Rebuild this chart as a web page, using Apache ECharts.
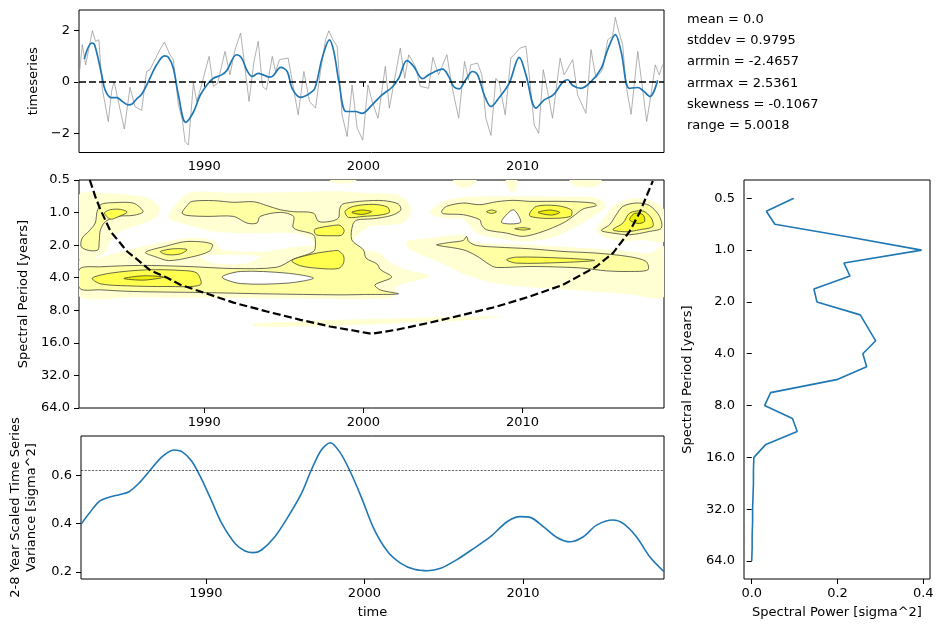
<!DOCTYPE html>
<html>
<head>
<meta charset="utf-8">
<script src="https://cdn.jsdelivr.net/npm/echarts@6/dist/echarts.min.js"></script>
<style>
  html, body { margin: 0; padding: 0; background: #fff; }
  #chart { width: 943px; height: 632px; }
</style>
</head>
<body>
<div id="chart"></div>
<script>
// ---- data ----
// monthly anomaly (grey) [year, value]
var greyTs = [[1982.08,-0.05],[1982.33,1.44],[1982.54,0.66],[1982.96,1.98],[1983.16,1.57],[1983.37,1.63],[1983.58,-0.25],[1983.96,-1.54],[1984.17,-0.37],[1984.32,0.02],[1984.55,-0.63],[1984.97,-1.83],[1985.33,-0.21],[1985.64,-0.96],[1986.06,-1.11],[1986.37,0.40],[1986.58,0.47],[1987.21,1.25],[1987.49,1.54],[1987.84,1.05],[1988.05,0.86],[1988.37,-0.89],[1988.62,-1.48],[1988.79,-2.32],[1989.00,-2.45],[1989.31,-0.05],[1989.52,-0.76],[1989.80,-0.18],[1990.30,0.99],[1990.57,-0.18],[1990.84,-0.05],[1991.30,1.18],[1991.61,0.27],[1991.93,1.25],[1992.28,1.89],[1992.52,0.73],[1992.81,-0.76],[1993.12,0.79],[1993.39,1.57],[1993.66,-0.18],[1993.91,-0.31],[1994.27,0.99],[1994.48,0.40],[1994.73,0.86],[1995.27,0.92],[1995.57,-0.12],[1995.90,-1.28],[1996.26,0.40],[1996.61,-0.76],[1996.99,-1.02],[1997.30,0.40],[1997.62,1.63],[1997.83,1.98],[1998.08,1.63],[1998.35,1.38],[1998.66,-1.28],[1998.98,-2.12],[1999.29,-0.12],[1999.61,-1.80],[1999.96,-2.26],[2000.29,-0.12],[2000.55,-0.76],[2000.92,-1.41],[2001.38,0.60],[2001.63,-1.02],[2002.32,1.31],[2002.60,0.14],[2002.85,1.05],[2003.27,0.60],[2003.58,-0.18],[2004.10,-0.25],[2004.37,0.95],[2004.73,0.27],[2005.25,1.05],[2005.57,-0.18],[2005.99,-1.41],[2006.36,0.79],[2006.61,0.08],[2006.75,0.66],[2007.18,0.73],[2007.45,0.27],[2007.70,-1.41],[2008.02,-2.08],[2008.33,0.14],[2008.54,-0.05],[2008.92,-1.28],[2009.27,0.92],[2009.86,1.31],[2010.22,1.38],[2010.47,0.02],[2010.74,-1.67],[2011.02,-2.00],[2011.31,0.47],[2011.58,-0.37],[2011.89,-1.41],[2012.37,0.92],[2012.62,0.27],[2013.16,0.86],[2013.47,-0.51],[2013.99,-1.22],[2014.31,1.25],[2014.62,0.14],[2015.04,0.47],[2015.36,1.63],[2015.67,1.77],[2015.84,2.50],[2016.05,1.96],[2016.30,1.44],[2016.51,-0.12],[2016.83,-1.26],[2017.25,1.18],[2017.56,-0.31],[2017.81,-1.54],[2018.08,-0.51],[2018.35,0.66],[2018.60,0.27],[2018.81,0.66],[2018.92,0.60]];

// smoothed series (blue) [year, value]
var smoothTs = [[1982.45,0.88],[1982.92,1.50],[1983.10,1.44],[1983.55,0.27],[1983.76,-0.31],[1984.14,-0.61],[1984.50,-0.61],[1984.80,-0.74],[1985.22,-0.89],[1985.43,-0.87],[1985.75,-0.66],[1986.06,-0.48],[1986.48,0.01],[1987.00,0.66],[1987.49,1.01],[1987.74,0.95],[1988.05,0.53],[1988.37,-0.51],[1988.83,-1.57],[1989.31,-1.18],[1989.73,-0.53],[1990.14,-0.14],[1990.57,0.14],[1991.09,0.27],[1991.40,0.43],[1992.03,1.05],[1992.35,0.92],[1992.66,0.47],[1993.01,0.21],[1993.39,0.33],[1993.70,0.27],[1994.12,0.18],[1994.35,0.25],[1994.80,0.56],[1995.21,0.40],[1995.52,-0.25],[1996.05,-0.60],[1996.57,-0.47],[1996.95,-0.25],[1997.41,0.92],[1997.87,1.63],[1998.14,1.18],[1998.46,0.01],[1998.92,-1.15],[1999.50,-1.15],[1999.92,-1.22],[2000.55,-0.89],[2001.17,-0.51],[2001.80,-0.21],[2002.22,0.14],[2002.74,0.82],[2003.16,0.60],[2003.73,0.12],[2004.10,0.27],[2004.98,0.49],[2005.36,0.21],[2005.67,-0.18],[2006.03,-0.27],[2006.40,0.05],[2006.87,0.40],[2007.18,0.27],[2007.60,-0.51],[2008.02,-0.96],[2008.54,-0.61],[2009.17,-0.05],[2009.80,0.95],[2010.22,0.27],[2010.85,-1.02],[2011.37,-0.70],[2011.94,-0.51],[2012.53,-0.01],[2012.84,0.08],[2013.16,-0.14],[2013.68,-0.25],[2014.31,0.01],[2014.94,0.51],[2015.36,1.25],[2015.84,1.83],[2016.20,1.18],[2016.72,-0.25],[2017.25,-0.22],[2017.60,-0.35],[2018.02,-0.57],[2018.50,0.06]];

var statsLines = ['mean = 0.0', 'stddev = 0.9795', 'arrmin = -2.4657', 'arrmax = 2.5361', 'skewness = -0.1067', 'range = 5.0018'];

// wavelet power, contour regions [year, period]
var wavePale = [
  [[1982.13,0.684],[1983.47,0.659],[1985.15,0.684],[1986.40,0.734],[1987.14,0.876],[1987.03,1.085],[1986.19,1.25],[1984.94,1.441],[1984.21,1.721],[1983.79,2.287],[1983.05,2.59],[1982.13,2.68]],
  [[1987.76,1.047],[1988.28,0.816],[1989.12,0.649],[1991.84,0.659],[1994.98,0.649],[1998.54,0.636],[2000.0,0.659],[2002.09,0.684],[2002.93,0.846],[2002.89,1.085],[2002.30,1.268],[2000.42,1.342],[1999.58,1.661],[1999.17,2.13],[1998.12,2.13],[1997.07,2.13],[1996.65,1.721],[1995.61,1.547],[1992.89,1.547],[1990.59,1.493],[1988.91,1.296],[1987.87,1.165]],
  [[1982.13,2.77],[1983.47,2.59],[1985.98,2.085],[1988.91,1.721],[1990.59,1.81],[1991.11,2.207],[1993.93,2.287],[1995.19,2.13],[1996.86,2.03],[1998.54,2.07],[1999.17,2.13],[2000.0,2.207],[2001.05,2.37],[2001.57,2.83],[2002.72,3.38],[2004.19,3.84],[2003.14,4.335],[2002.09,4.823],[2001.88,6.01],[2000.0,6.32],[1998.54,6.32],[1993.93,6.23],[1989.75,6.14],[1985.56,6.05],[1982.13,5.968]],
  [[1993.10,10.67],[1996.03,10.17],[1998.54,9.81],[2002.09,9.54],[2006.28,9.14],[2008.79,9.2],[2006.28,9.95],[2002.09,10.53],[1998.54,11.1],[1996.03,11.3],[1993.10,11.3]],
  [[1997.91,0.5],[1999.58,0.5],[1999.17,0.532],[1998.12,0.532]],
  [[2005.65,0.5],[2007.11,0.5],[2006.80,0.564],[2006.18,0.593]],
  [[2008.96,0.5],[2009.67,0.5],[2009.52,0.636],[2009.21,0.627]],
  [[2012.97,0.5],[2014.96,0.5],[2014.65,0.572],[2013.39,0.572]],
  [[2004.19,1.01],[2004.81,0.816],[2005.86,0.734],[2008.37,0.708],[2010.46,0.708],[2012.55,0.718],[2014.65,0.734],[2015.27,0.876],[2014.44,1.085],[2013.39,1.342],[2011.72,1.721],[2010.04,1.848],[2008.37,1.721],[2007.11,1.547],[2006.28,1.165],[2005.02,1.124]],
  [[2002.72,1.848],[2004.19,1.721],[2006.28,1.603],[2006.91,1.848],[2008.37,1.95],[2010.46,1.984],[2012.55,2.07],[2014.65,2.16],[2016.74,2.287],[2017.99,2.37],[2018.9,2.056],[2018.9,6.0],[2016.74,5.7],[2014.65,5.4],[2012.55,5.1],[2010.46,4.9],[2008.37,4.5],[2006.7,3.9],[2004.81,2.9],[2002.93,2.2]],
  [[2014.65,1.441],[2015.06,1.165],[2015.69,0.876],[2016.74,0.75],[2017.99,0.77],[2018.9,0.941],[2018.9,1.848],[2017.58,1.784],[2016.32,1.848],[2015.06,1.661]]
];
var waveGaps = [
  [[1989.75,2.545],[1991.42,2.456],[1993.51,2.545],[1992.68,2.933],[1990.59,2.933]]
];
var waveLow = [
  [[1982.26,2.07],[1982.32,1.72],[1982.74,1.49],[1983.14,1.25],[1983.26,0.975],[1983.51,0.84],[1984.31,0.81],[1985.56,0.82],[1986.15,0.98],[1985.56,1.06],[1984.52,1.085],[1983.79,1.21],[1983.47,1.44],[1983.39,1.85],[1983.31,2.21],[1982.74,2.24]],
  [[1986.30,2.33],[1987.66,2.03],[1988.91,1.85],[1990.48,1.95],[1990.33,2.27],[1989.12,2.59],[1987.76,2.78],[1987.03,2.59]],
  [[1988.60,1.01],[1988.91,0.862],[1989.23,0.788],[1990.59,0.776],[1991.84,0.804],[1993.10,0.794],[1993.93,0.862],[1994.77,0.941],[1995.61,0.982],[1996.86,1.01],[1997.18,1.207],[1997.91,1.207],[1998.43,1.124],[1998.50,0.941],[1998.64,0.846],[1998.96,0.816],[2000.0,0.782],[2001.26,0.776],[2002.20,0.834],[2002.35,0.947],[2001.78,1.062],[2000.63,1.14],[1999.58,1.173],[1999.33,1.296],[1999.27,1.784],[2000.0,2.207],[2000.17,2.637],[2000.84,2.975],[2001.09,3.381],[2001.78,3.95],[2000.73,4.654],[2001.05,5.178],[2002.20,5.64],[2000.0,5.72],[1998.54,5.76],[1993.93,5.64],[1989.75,5.48],[1985.56,5.365],[1983.47,5.178],[1982.17,5.03],[1982.17,3.31],[1983.47,3.17],[1985.98,3.08],[1988.91,3.149],[1991.84,3.29],[1994.56,3.20],[1995.61,2.69],[1996.86,2.30],[1996.99,1.984],[1996.86,1.603],[1995.61,1.391],[1995.61,1.085],[1994.77,0.996],[1993.51,1.085],[1993.31,1.25],[1992.68,1.25],[1991.84,1.085],[1990.17,1.085],[1988.91,1.062]],
  [[2004.92,0.975],[2005.23,0.876],[2006.28,0.816],[2007.32,0.846],[2008.37,0.794],[2009.42,0.771],[2010.46,0.788],[2012.55,0.788],[2014.44,0.816],[2014.65,0.862],[2013.81,0.927],[2013.18,1.085],[2012.55,1.25],[2011.30,1.493],[2010.04,1.661],[2009.0,1.547],[2007.74,1.441],[2007.43,1.296],[2007.32,1.165],[2006.28,1.047],[2005.02,1.025]],
  [[2004.60,1.984],[2005.44,1.888],[2006.28,1.81],[2006.49,1.661],[2006.61,1.848],[2007.11,2.013],[2008.37,2.085],[2010.46,2.16],[2012.55,2.287],[2014.65,2.37],[2016.74,2.56],[2017.78,2.831],[2017.89,3.381],[2016.74,3.503],[2015.27,3.455],[2013.81,3.263],[2012.55,3.195],[2010.46,3.149],[2008.37,3.217],[2007.95,3.039],[2007.11,2.51],[2006.28,2.207],[2004.81,2.027]],
  [[2014.96,1.462],[2015.48,1.296],[2015.90,1.047],[2016.32,0.876],[2017.16,0.816],[2017.99,0.862],[2018.62,1.085],[2018.73,1.391],[2017.99,1.493],[2016.74,1.603],[2015.69,1.547]]
];
var waveDips = [
  [[1991.11,3.95],[1992.26,3.503],[1995.19,3.63],[1996.86,4.038],[1995.19,4.492],[1992.26,4.525]],
  [[2009.42,0.941],[2009.88,1.232],[2008.68,1.232]]
];
var waveMid = [
  [[1983.72,1.01],[1984.10,0.94],[1984.73,0.935],[1985.15,0.99],[1984.64,1.085],[1984.10,1.15]],
  [[1987.24,2.29],[1988.08,2.16],[1988.91,2.2],[1988.49,2.41],[1987.66,2.45]],
  [[1996.97,1.416],[1998.12,1.315],[1998.54,1.315],[1998.79,1.462],[1998.64,1.614],[1998.12,1.638],[1997.07,1.614],[1996.92,1.514]],
  [[1995.50,2.77],[1996.86,2.405],[1998.12,2.255],[1998.43,2.255],[1998.75,2.51],[1998.75,2.933],[1998.43,3.285],[1997.28,3.285],[1996.03,3.10]],
  [[1998.85,0.975],[1999.37,0.876],[2000.63,0.84],[2001.51,0.889],[2001.63,0.996],[2001.05,1.055],[2000.0,1.085],[1999.06,1.108]],
  [[1982.95,4.038],[1984.10,3.63],[1986.40,3.381],[1988.60,3.43],[1989.54,3.63],[1989.75,4.654],[1987.66,4.823],[1985.15,4.755],[1983.47,4.555]],
  [[2007.74,0.982],[2008.06,0.947],[2008.37,0.982],[2008.06,1.018]],
  [[2010.46,1.01],[2010.88,0.876],[2012.14,0.862],[2013.08,0.947],[2013.02,1.085],[2011.51,1.132],[2010.50,1.085]],
  [[2009.52,1.41],[2010.04,1.38],[2010.50,1.416],[2010.04,1.45]],
  [[2009.0,2.732],[2009.63,2.581],[2012.55,2.637],[2014.54,2.77],[2012.55,2.89],[2009.63,2.933]],
  [[2015.69,1.441],[2016.32,1.25],[2016.74,1.01],[2017.58,0.968],[2018.10,1.124],[2018.20,1.342],[2017.37,1.441],[2016.53,1.504]]
];
var waveHigh = [
  [[1999.27,0.996],[1999.90,0.947],[2000.52,0.982],[1999.90,1.04]],
  [[1984.94,4.067],[1986.19,3.84],[1987.45,3.95],[1986.19,4.21]],
  [[2010.98,0.996],[2011.72,0.947],[2012.35,0.996],[2011.82,1.055]],
  [[2016.74,1.165],[2017.05,1.018],[2017.58,1.047],[2017.68,1.207],[2017.26,1.26]]
];

// cone of influence [year, period]
var coi = [[1982.80,0.50],[1983.17,0.73],[1983.47,0.94],[1984.10,1.49],[1985.15,2.29],[1985.83,2.75],[1986.61,3.43],[1987.66,4.0],[1988.49,4.65],[1989.75,5.36],[1991.84,6.8],[1993.93,8.2],[1996.03,9.8],[1997.91,11.3],[1999.37,12.3],[2000.50,13.2],[2002.09,12.1],[2004.19,10.4],[2006.28,8.8],[2008.37,7.4],[2010.46,5.97],[2012.55,4.65],[2014.65,3.15],[2015.69,2.37],[2016.74,1.49],[2017.37,1.0],[2018.20,0.51]];

// 2-8 year scaled variance [year, sigma^2]
var scaledVar = [[1982.13,0.398],[1982.64,0.443],[1983.26,0.491],[1983.89,0.509],[1984.52,0.520],[1985.15,0.532],[1985.77,0.567],[1986.40,0.615],[1987.24,0.677],[1987.97,0.705],[1988.49,0.698],[1989.12,0.657],[1989.75,0.581],[1990.38,0.491],[1991.00,0.401],[1991.84,0.318],[1992.47,0.287],[1992.99,0.280],[1993.51,0.291],[1994.35,0.346],[1995.19,0.429],[1996.03,0.525],[1996.65,0.622],[1997.28,0.705],[1997.85,0.735],[1998.43,0.698],[1999.06,0.622],[1999.79,0.512],[2000.63,0.374],[2001.47,0.284],[2002.30,0.236],[2003.14,0.211],[2003.98,0.205],[2004.81,0.215],[2005.86,0.252],[2006.91,0.298],[2007.95,0.346],[2009.00,0.408],[2009.83,0.429],[2010.46,0.426],[2011.30,0.387],[2012.14,0.343],[2012.97,0.325],[2013.81,0.346],[2014.65,0.394],[2015.69,0.415],[2016.32,0.401],[2017.16,0.346],[2018.00,0.263],[2018.90,0.201]];
var sigLevel = 0.617;

// global wavelet spectrum
var periods = [0.5, 0.595, 0.707, 0.841, 1.0, 1.189, 1.414, 1.682, 2.0, 2.378, 2.828, 3.364, 4.0, 4.757, 5.657, 6.727, 8.0, 9.514, 11.31, 13.45, 16.0, 19.03, 22.63, 26.91, 32.0, 38.05, 45.25, 53.82, 64.0];
var powers = [0.098, 0.034, 0.054, 0.23, 0.396, 0.215, 0.229, 0.145, 0.152, 0.253, 0.271, 0.289, 0.259, 0.268, 0.198, 0.044, 0.030, 0.095, 0.106, 0.033, 0.005, 0.004, 0.004, 0.003, 0.002, 0.002, 0.001, 0.001, 0.0];

var yearTicks = [1990, 2000, 2010];

// ---- chart ----
var FONT = 'DejaVu Sans';
var myChart = echarts.init(document.getElementById('chart'));

function fmt1(v) { return Number(v).toFixed(1); }

function plainAxis(gridIndex, min, max, ticks, formatter, extra) {
  var ax = {
    type: 'value',
    gridIndex: gridIndex,
    min: min,
    max: max,
    axisLine: { show: false },
    axisTick: { show: !!ticks, customValues: ticks, length: 5, lineStyle: { color: '#000', width: 1 } },
    axisLabel: { show: !!ticks, customValues: ticks, formatter: formatter, color: '#000', fontSize: 13, fontFamily: FONT, margin: 8 },
    splitLine: { show: false },
    nameTextStyle: { color: '#000', fontSize: 13, fontFamily: FONT }
  };
  return Object.assign(ax, extra || {});
}

function periodAxis(gridIndex, extra) {
  return Object.assign({
    type: 'log',
    logBase: 2,
    gridIndex: gridIndex,
    min: 0.5,
    max: 64,
    interval: 1,
    inverse: true,
    axisLine: { show: false },
    axisTick: { length: 5, lineStyle: { color: '#000', width: 1 } },
    axisLabel: { formatter: fmt1, color: '#000', fontSize: 13, fontFamily: FONT, margin: 9 },
    splitLine: { show: false },
    minorTick: { show: false },
    nameTextStyle: { color: '#000', fontSize: 13, fontFamily: FONT }
  }, extra || {});
}

function waveSeries(shapes, fill, stroke) {
  return {
    type: 'custom',
    xAxisIndex: 1,
    yAxisIndex: 1,
    clip: true,
    silent: true,
    encode: { x: 0, y: 1 },
    data: shapes.map(function (s) { return [s[0][0], s[0][1]]; }),
    renderItem: function (params, api) {
      var pts = shapes[params.dataIndex].map(function (p) { return api.coord(p); });
      return {
        type: 'polygon',
        shape: { points: pts, smooth: 0.3 },
        style: { fill: fill, stroke: stroke ? '#2a2a2a' : null, lineWidth: stroke ? 0.7 : 0 }
      };
    }
  };
}

var minusFmt = function (v) { return v < 0 ? '\u2212' + Math.abs(v) : String(v); };

var option = {
  animation: false,
  backgroundColor: '#fff',
  textStyle: { fontFamily: FONT, color: '#000' },
  grid: [
    { left: 79, top: 10, width: 585, height: 142.5, show: true, borderColor: '#000', borderWidth: 1, backgroundColor: 'transparent' },
    { left: 79, top: 180, width: 585, height: 228, show: true, borderColor: '#000', borderWidth: 1, backgroundColor: 'transparent' },
    { left: 79, top: 436, width: 585, height: 143, show: true, borderColor: '#000', borderWidth: 1, backgroundColor: 'transparent' },
    { left: 744, top: 180, width: 186, height: 399, show: true, borderColor: '#000', borderWidth: 1, backgroundColor: 'transparent' },
    { left: 744, top: 198.3, width: 186, height: 362.7, show: false }
  ],
  xAxis: [
    plainAxis(0, 1982.12, 2018.9, yearTicks, String),
    plainAxis(1, 1982.12, 2018.9, yearTicks, String),
    plainAxis(2, 1982.12, 2018.9, yearTicks, String, { name: 'time', nameLocation: 'middle', nameGap: 27 }),
    plainAxis(3, -0.018, 0.4156, [0, 0.2, 0.4], fmt1, { name: 'Spectral Power [sigma^2]', nameLocation: 'middle', nameGap: 27 }),
    plainAxis(4, -0.018, 0.4156, null, null)
  ],
  yAxis: [
    plainAxis(0, -2.74, 2.785, [-2, 0, 2], minusFmt, { name: 'timeseries', nameLocation: 'middle', nameGap: 38, axisLabel: { customValues: [-2, 0, 2], formatter: minusFmt, color: '#000', fontSize: 13, fontFamily: FONT, margin: 9 } }),
    periodAxis(1, { name: 'Spectral Period [years]', nameLocation: 'middle', nameGap: 49 }),
    plainAxis(2, 0.171, 0.7627, [0.2, 0.4, 0.6], fmt1, { name: '2-8 Year Scaled Time Series\nVariance [sigma^2]', nameLocation: 'middle', nameGap: 41, nameTextStyle: { color: '#000', fontSize: 13, fontFamily: FONT, lineHeight: 16 }, axisLabel: { customValues: [0.2, 0.4, 0.6], formatter: fmt1, color: '#000', fontSize: 13, fontFamily: FONT, margin: 9 } }),
    plainAxis(3, 0, 1, null, null),
    periodAxis(4, { name: 'Spectral Period [years]', nameLocation: 'middle', nameGap: 50 })
  ],
  graphic: statsLines.map(function (t, i) {
    return {
      type: 'text',
      x: 687,
      y: 19.5 + i * 21.3,
      style: { text: t, fill: '#000', fontSize: 13, fontFamily: FONT, verticalAlign: 'middle' }
    };
  }),
  series: [
    {
      type: 'line', xAxisIndex: 0, yAxisIndex: 0, data: greyTs, showSymbol: false, silent: true,
      lineStyle: { color: '#8f8f8f', width: 0.7 }
    },
    {
      type: 'line', xAxisIndex: 0, yAxisIndex: 0, data: smoothTs, showSymbol: false, smooth: 0.35, silent: true,
      lineStyle: { color: '#1f77b4', width: 1.7 },
      markLine: {
        silent: true, symbol: ['none', 'none'], label: { show: false },
        lineStyle: { color: '#000', width: 1.7, type: [7, 3] },
        data: [{ yAxis: 0 }]
      }
    },
    waveSeries(wavePale, '#ffffd3', false),
    waveSeries(waveGaps, '#ffffff', false),
    waveSeries(waveLow, '#ffffa3', true),
    waveSeries(waveDips, '#ffffff', true),
    waveSeries(waveMid, '#ffff50', true),
    waveSeries(waveHigh, '#eeee00', true),
    {
      type: 'line', xAxisIndex: 1, yAxisIndex: 1, data: coi, showSymbol: false, silent: true,
      lineStyle: { color: '#000', width: 2.2, type: [8, 3.5] }
    },
    {
      type: 'line', xAxisIndex: 2, yAxisIndex: 2, data: scaledVar, showSymbol: false, smooth: 0.3, silent: true,
      lineStyle: { color: '#1f77b4', width: 1.6 },
      markLine: {
        silent: true, symbol: ['none', 'none'], label: { show: false },
        lineStyle: { color: '#000', width: 0.6, type: [2.2, 1.4] },
        data: [{ yAxis: sigLevel }]
      }
    },
    {
      type: 'line', xAxisIndex: 4, yAxisIndex: 4, showSymbol: false, silent: true,
      data: powers.map(function (p, i) { return [p, periods[i]]; }),
      lineStyle: { color: '#1f77b4', width: 1.6 }
    }
  ]
};

myChart.setOption(option);
</script>
</body>
</html>
